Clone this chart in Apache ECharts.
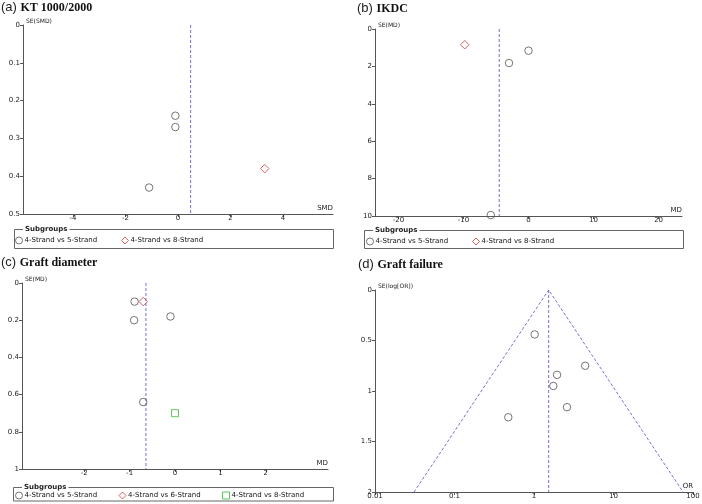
<!DOCTYPE html>
<html>
<head>
<meta charset="utf-8">
<script src="https://cdn.jsdelivr.net/npm/echarts@6/dist/echarts.min.js"></script>
<style>
	* {
		margin: 0;
		padding: 0;
	}

	#main {
		width: 702px;
		height: 504px;
		background: #fff;
	}
</style>
</head>
<body>
<div id="main"></div>
<script>
	// (a) KT 1000/2000
	var ktFive = [[-0.1, 0.24], [-0.1, 0.27], [-1.1, 0.43]];
	var ktEight = [[3.3, 0.38]];
	var ktPooled = 0.48;
	// (b) IKDC
	var ikdcFive = [[0, 1.16], [-3, 1.82], [-5.8, 9.95]];
	var ikdcEight = [[-9.8, 0.84]];
	var ikdcPooled = -4.5;
	// (c) Graft diameter
	var diaFive = [[-0.89, 0.1], [-0.1, 0.18], [-0.9, 0.2], [-0.7, 0.64]];
	var diaSix = [[-0.7, 0.1]];
	var diaEight = [[0, 0.7]];
	var diaPooled = -0.64;
	// (d) Graft failure
	var failFive = [[1.02, 0.44], [4.4, 0.75], [1.95, 0.84], [1.75, 0.95], [2.6, 1.16], [0.475, 1.26]];
	var failPooled = 1.53;
	var failFunnel = [[0.031, 2], [1.53, 0], [75, 2]];

	var panels = ['(a)', '(b)', '(c)', '(d)'];
	var titles = ['KT 1000/2000', 'IKDC', 'Graft diameter', 'Graft failure'];
	var xNames = ['SMD', 'MD', 'MD', 'OR'];
	var yNames = ['SE(SMD)', 'SE(MD)', 'SE(MD)', 'SE(log[OR])'];
	var xTicks = [[-4, -2, 0, 2, 4], [-20, -10, 0, 10, 20], [-2, -1, 0, 1, 2]];
	var xRange = [[-5.9, 5.9], [-23.6, 23.6], [-3.37, 3.37], [0.01, 100]];
	var yRange = [[0, 0.5, 0.1], [0, 10, 2], [0, 1, 0.2], [0, 2, 0.5]];

	var nameFive = '4-Strand vs 5-Strand';
	var nameSix = '4-Strand vs 6-Strand';
	var nameEight = '4-Strand vs 8-Strand';

	var small = {fontFamily: 'DejaVu Sans', fontSize: 7, color: '#222'};
	var axisColor = '#555';
	var dashColor = '#7272d4';
	var circleStyle = {color: 'rgba(255,255,255,0)', borderColor: '#555', borderWidth: 1};
	var diamondStyle = {color: 'rgba(255,255,255,0)', borderColor: '#cc3b3b', borderWidth: 1};
	var squareStyle = {color: 'rgba(255,255,255,0)', borderColor: '#35b935', borderWidth: 1};

	var grids = [
		{left: 23, top: 25, width: 310, height: 189},
		{left: 375, top: 29, width: 307, height: 187},
		{left: 22, top: 283, width: 306, height: 186},
		{left: 375, top: 290, width: 318, height: 202}
	];
	var titlePos = [[1, 1], [357, 2], [1, 256], [358, 258]];

	var xAxes = [];
	var yAxes = [];
	var titleList = [];
	for (var i = 0; i < 4; i++) {
		grids[i].outerBoundsMode = 'none';
		grids[i].containLabel = false;
		var xa = {
			gridIndex: i,
			type: i == 3 ? 'log' : 'value',
			min: xRange[i][0],
			max: xRange[i][1],
			name: xNames[i],
			nameLocation: 'end',
			nameGap: 0,
			nameMoveOverlap: false,
			nameTextStyle: {fontFamily: 'DejaVu Sans', fontSize: 7, color: '#222', align: 'right', verticalAlign: 'bottom', padding: [0, 0, 2, 0]},
			axisLine: {show: true, onZero: false, lineStyle: {color: axisColor, width: 1}},
			axisTick: {show: true, length: 3, lineStyle: {color: axisColor}},
			axisLabel: Object.assign({margin: 1}, small),
			splitLine: {show: false}
		};
		if (i == 3) {
			xa.logBase = 10;
		} else {
			xa.axisTick.customValues = xTicks[i];
			xa.axisLabel.customValues = xTicks[i];
		}
		xAxes.push(xa);
		yAxes.push({
			gridIndex: i,
			type: 'value',
			inverse: true,
			min: yRange[i][0],
			max: yRange[i][1],
			interval: yRange[i][2],
			name: yNames[i],
			nameLocation: 'start',
			nameGap: 1,
			nameMoveOverlap: false,
			nameTextStyle: {fontFamily: 'DejaVu Sans', fontSize: 6, color: '#222', align: 'left', verticalAlign: 'bottom', padding: [0, 0, 0, 3]},
			axisLine: {show: true, onZero: false, lineStyle: {color: axisColor, width: 1}},
			axisTick: {show: true, length: 3, lineStyle: {color: axisColor}},
			axisLabel: Object.assign({margin: 3}, small),
			splitLine: {show: false}
		});
		titleList.push({
			left: titlePos[i][0],
			top: titlePos[i][1],
			padding: 0,
			text: '{p|' + panels[i] + ' }{t|' + titles[i] + '}',
			textStyle: {
				rich: {
					p: {fontFamily: 'Liberation Sans', fontWeight: 'normal', fontSize: 13, color: '#222'},
					t: {fontFamily: 'Liberation Serif', fontWeight: 'bold', fontSize: 12, color: '#111'}
				}
			}
		});
	}

	function dashed(idx, data) {
		return {
			type: 'line', xAxisIndex: idx, yAxisIndex: idx, data: data,
			symbol: 'none', silent: true, z: 1,
			lineStyle: {type: [3, 2], color: dashColor, width: 1}
		};
	}

	function dots(idx, name, data, symbol, size, style) {
		return {
			type: 'scatter', name: name, xAxisIndex: idx, yAxisIndex: idx, data: data,
			symbol: symbol, symbolSize: size, itemStyle: style, z: 3,
			emphasis: {disabled: true}
		};
	}

	var series = [
		dashed(0, [[ktPooled, yRange[0][0]], [ktPooled, yRange[0][1]]]),
		dots(0, nameFive, ktFive, 'circle', 7.5, circleStyle),
		dots(0, nameEight, ktEight, 'diamond', 8.5, diamondStyle),

		dashed(1, [[ikdcPooled, yRange[1][0]], [ikdcPooled, yRange[1][1]]]),
		dots(1, nameFive, ikdcFive, 'circle', 7.5, circleStyle),
		dots(1, nameEight, ikdcEight, 'diamond', 8.5, diamondStyle),

		dashed(2, [[diaPooled, yRange[2][0]], [diaPooled, yRange[2][1]]]),
		dots(2, nameFive, diaFive, 'circle', 7.5, circleStyle),
		dots(2, nameSix, diaSix, 'diamond', 8.5, diamondStyle),
		dots(2, nameEight, diaEight, 'rect', 7, squareStyle),

		dashed(3, [[failPooled, yRange[3][0]], [failPooled, yRange[3][1]]]),
		dashed(3, failFunnel),
		dots(3, nameFive, failFive, 'circle', 7.5, circleStyle)
	];

	// legend items, one legend each so they sit where the original has them
	function legendItem(left, top, name, icon, style) {
		return {
			left: left, top: top, padding: 0, selectedMode: false,
			itemWidth: 7, itemHeight: 7, orient: 'horizontal',
			textStyle: {fontFamily: 'DejaVu Sans', fontSize: 7, color: '#111', padding: [0, 0, 0, -3]},
			data: [{name: name, icon: icon, itemStyle: style}]
		};
	}
	var legends = [
		legendItem(15, 236.5, nameFive, 'circle', circleStyle),
		legendItem(121, 236.5, nameEight, 'diamond', diamondStyle),
		legendItem(366, 237.5, nameFive, 'circle', circleStyle),
		legendItem(472, 237.5, nameEight, 'diamond', diamondStyle),
		legendItem(15, 491.5, nameFive, 'circle', circleStyle),
		legendItem(118.5, 491.5, nameSix, 'diamond', diamondStyle),
		legendItem(222, 491.5, nameEight, 'rect', squareStyle)
	];

	var boxes = [[14, 229, 319, 19], [364, 230, 319, 18], [13, 487, 320, 13.5]];
	var graphics = [];
	boxes.forEach(function(b) {
		graphics.push({
			type: 'rect', silent: true,
			shape: {x: b[0] + 0.5, y: b[1] + 0.5, width: b[2], height: b[3]},
			style: {fill: null, stroke: '#666', lineWidth: 1}
		});
		graphics.push({
			type: 'text', silent: true, x: b[0] + 9, y: b[1] + 0.5,
			style: {
				text: 'Subgroups', font: 'bold 7px "DejaVu Sans"', fill: '#222',
				backgroundColor: '#fff', padding: [0, 2], verticalAlign: 'middle'
			}
		});
	});

	var chart = echarts.init(document.getElementById('main'));
	chart.setOption({
		animation: false,
		title: titleList,
		grid: grids,
		xAxis: xAxes,
		yAxis: yAxes,
		legend: legends,
		graphic: graphics,
		series: series
	});
</script>
</body>
</html>
